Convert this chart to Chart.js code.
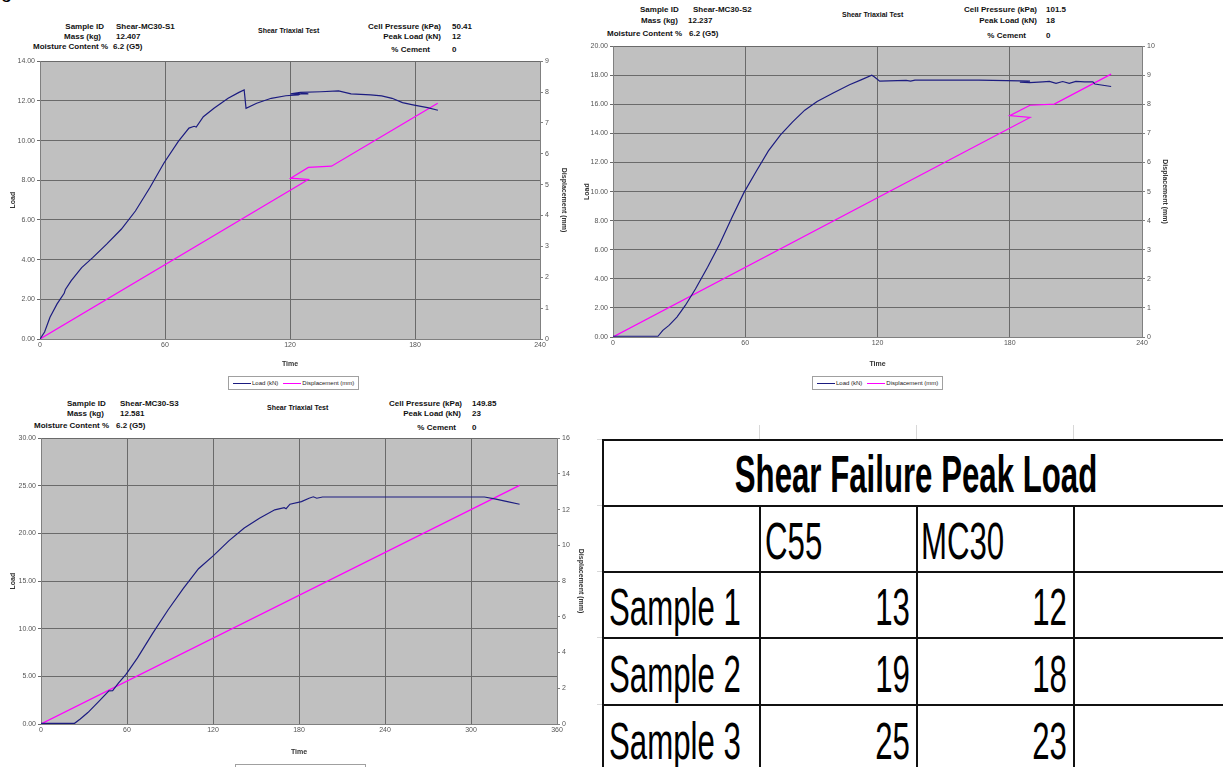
<!DOCTYPE html>
<html>
<head>
<meta charset="utf-8">
<script src="https://cdn.jsdelivr.net/npm/chart.js@4.4.1/dist/chart.umd.min.js"></script>
<style>
  body { margin: 0; background: #fff; }
  #page { position: relative; width: 1223px; height: 767px; overflow: hidden; font-family: "Liberation Sans", Arial, sans-serif; }
  .abs { position: absolute; white-space: nowrap; }
  .hd { position: absolute; white-space: nowrap; font-size: 8px; font-weight: bold; line-height: 10px; color: #111; }
  .hr { text-align: right; }
  canvas { position: absolute; }
  .legend { position: absolute; border: 1px solid #a0a0a0; background: #fff; height: 12px; font-size: 6px; line-height: 12px; color: #222; padding: 0 4px; }
  .legend span.ln { display: inline-block; width: 18px; height: 1px; vertical-align: middle; margin-right: 1px; }
  .legend span.tx { margin-right: 5px; }
  .hline { position: absolute; height: 2px; background: #111; }
  .vline { position: absolute; width: 2px; background: #111; }
  .ghost { position: absolute; background: #d8d8d8; }
  .big { position: absolute; white-space: nowrap; font-size: 52px; line-height: 52px; color: #000; }
</style>
</head>
<body>
<div id="page">
  <div class="abs" style="left:1px;top:-19px;font-size:20px;line-height:20px;">g</div>

  <!-- chart 1 header -->
  <div class="hd hr" style="left:20px;top:22px;width:84px;">Sample ID</div>
  <div class="hd" style="left:116px;top:22px;">Shear-MC30-S1</div>
  <div class="hd hr" style="left:20px;top:32px;width:81px;">Mass (kg)</div>
  <div class="hd" style="left:116px;top:32px;">12.407</div>
  <div class="hd" style="left:33px;top:42px;">Moisture Content %</div>
  <div class="hd" style="left:113px;top:42px;">6.2 (G5)</div>
  <div class="hd" style="left:258px;top:26px;font-size:7px;">Shear Triaxial Test</div>
  <div class="hd hr" style="left:340px;top:22px;width:101px;">Cell Pressure (kPa)</div>
  <div class="hd" style="left:452px;top:22px;">50.41</div>
  <div class="hd hr" style="left:340px;top:32px;width:101px;">Peak Load (kN)</div>
  <div class="hd" style="left:452px;top:32px;">12</div>
  <div class="hd hr" style="left:340px;top:45px;width:90px;">% Cement</div>
  <div class="hd" style="left:452px;top:45px;">0</div>

  <!-- chart 2 header -->
  <div class="hd" style="left:640px;top:5px;">Sample ID</div>
  <div class="hd" style="left:693px;top:5px;">Shear-MC30-S2</div>
  <div class="hd" style="left:641px;top:16px;">Mass (kg)</div>
  <div class="hd" style="left:688px;top:16px;">12.237</div>
  <div class="hd" style="left:607px;top:29px;">Moisture Content %</div>
  <div class="hd" style="left:689px;top:29px;">6.2 (G5)</div>
  <div class="hd" style="left:842px;top:10px;font-size:7px;">Shear Triaxial Test</div>
  <div class="hd hr" style="left:930px;top:5px;width:107px;">Cell Pressure (kPa)</div>
  <div class="hd" style="left:1046px;top:5px;">101.5</div>
  <div class="hd hr" style="left:930px;top:16px;width:107px;">Peak Load (kN)</div>
  <div class="hd" style="left:1046px;top:16px;">18</div>
  <div class="hd hr" style="left:930px;top:31px;width:96px;">% Cement</div>
  <div class="hd" style="left:1046px;top:31px;">0</div>

  <!-- chart 3 header -->
  <div class="hd" style="left:67px;top:399px;">Sample ID</div>
  <div class="hd" style="left:120px;top:399px;">Shear-MC30-S3</div>
  <div class="hd" style="left:67px;top:409px;">Mass (kg)</div>
  <div class="hd" style="left:120px;top:409px;">12.581</div>
  <div class="hd" style="left:34px;top:421px;">Moisture Content %</div>
  <div class="hd" style="left:116px;top:421px;">6.2 (G5)</div>
  <div class="hd" style="left:267px;top:403px;font-size:7px;">Shear Triaxial Test</div>
  <div class="hd hr" style="left:360px;top:399px;width:102px;">Cell Pressure (kPa)</div>
  <div class="hd" style="left:472px;top:399px;">149.85</div>
  <div class="hd hr" style="left:360px;top:409px;width:101px;">Peak Load (kN)</div>
  <div class="hd" style="left:472px;top:409px;">23</div>
  <div class="hd hr" style="left:360px;top:423px;width:96px;">% Cement</div>
  <div class="hd" style="left:472px;top:423px;">0</div>

  <canvas id="c1" width="570" height="313" style="left:0px;top:55px;"></canvas>
  <canvas id="c2" width="591" height="328" style="left:580px;top:40px;"></canvas>
  <canvas id="c3" width="587" height="324" style="left:0px;top:432px;"></canvas>

  <div class="legend" style="left:228px;top:376px;"><span class="ln" style="background:#1c1c80"></span><span class="tx">Load (kN)</span><span class="ln" style="background:#ff00ff"></span><span>Displacement (mm)</span></div>
  <div class="legend" style="left:812px;top:376px;"><span class="ln" style="background:#1c1c80"></span><span class="tx">Load (kN)</span><span class="ln" style="background:#ff00ff"></span><span>Displacement (mm)</span></div>
  <div class="legend" style="left:235px;top:764px;width:121px;"></div>

  <!-- table -->
  <div class="ghost" style="left:759px;top:425px;width:1px;height:14px;"></div>
  <div class="ghost" style="left:916px;top:425px;width:1px;height:14px;"></div>
  <div class="ghost" style="left:1073px;top:425px;width:1px;height:14px;"></div>
  <div class="ghost" style="left:597px;top:439px;width:6px;height:1px;"></div>
  <div class="ghost" style="left:597px;top:505px;width:6px;height:1px;"></div>
  <div class="ghost" style="left:597px;top:571px;width:6px;height:1px;"></div>
  <div class="ghost" style="left:597px;top:637px;width:6px;height:1px;"></div>
  <div class="ghost" style="left:597px;top:704px;width:6px;height:1px;"></div>

  <div class="hline" style="left:603px;top:439px;width:620px;"></div>
  <div class="hline" style="left:603px;top:505px;width:620px;"></div>
  <div class="hline" style="left:603px;top:571px;width:620px;"></div>
  <div class="hline" style="left:603px;top:637px;width:620px;"></div>
  <div class="hline" style="left:603px;top:704px;width:620px;"></div>
  <div class="vline" style="left:602px;top:439px;height:328px;"></div>
  <div class="vline" style="left:759px;top:505px;height:262px;"></div>
  <div class="vline" style="left:916px;top:505px;height:262px;"></div>
  <div class="vline" style="left:1073px;top:505px;height:262px;"></div>
</div>

<script>
// ---- table data ----
var tableTitle = 'Shear Failure Peak Load'
var tableCols = ['C55', 'MC30']
var tableRows = ['Sample 1', 'Sample 2', 'Sample 3']
var peakC55 = [13, 19, 25]
var peakMC30 = [12, 18, 23]

// ---- sample 1 (Shear-MC30-S1) ----
var s1Time = [0, 2.2, 4.8, 8.2, 11.6, 12.2, 15, 20, 25.3, 32, 39, 45.8, 52.7, 59.5, 66.4, 71.5, 74, 75, 78.4, 83.5, 90.3, 95.5, 98, 98.9, 104, 111, 118, 124, 126, 128.8, 120.3, 125, 134.8, 143.3, 149.3, 158.7, 164, 169, 174, 179, 186, 191]
var s1Load = [0, 0.35, 1.1, 1.77, 2.3, 2.5, 2.94, 3.6, 4.1, 4.78, 5.53, 6.45, 7.62, 8.87, 9.96, 10.63, 10.72, 10.68, 11.2, 11.63, 12.13, 12.43, 12.55, 11.63, 11.88, 12.13, 12.26, 12.3, 12.4, 12.35, 12.35, 12.43, 12.46, 12.5, 12.35, 12.3, 12.25, 12.13, 11.91, 11.8, 11.66, 11.53]
var s1DispTime = [0, 128.8, 120.3, 128.8, 139.9, 190.9]
var s1Disp = [0, 5.17, 5.21, 5.56, 5.6, 7.64]

// ---- sample 2 (Shear-MC30-S2) ----
var s2Time = [0, 20.4, 22.6, 25.4, 29, 32.8, 37.4, 42.9, 48.4, 53.9, 59.4, 65, 70.5, 76, 81.5, 87, 92.6, 99.9, 107.3, 112.8, 117.4, 118.5, 121, 133, 135, 137, 166, 184.6, 189.2, 184.6, 189, 195, 198, 201, 204, 207, 210, 214, 217.7, 218.6, 226]
var s2Load = [0.05, 0.05, 0.46, 0.8, 1.37, 2.17, 3.3, 4.8, 6.4, 8.2, 9.93, 11.4, 12.8, 13.9, 14.8, 15.6, 16.2, 16.78, 17.35, 17.7, 18.0, 17.9, 17.6, 17.65, 17.6, 17.67, 17.67, 17.62, 17.6, 17.52, 17.5, 17.55, 17.58, 17.45, 17.57, 17.45, 17.58, 17.55, 17.55, 17.4, 17.23]
var s2DispTime = [0, 189.2, 180, 189.2, 200.2, 226]
var s2Disp = [0, 7.55, 7.61, 7.97, 8.01, 9.04]

// ---- sample 3 (Shear-MC30-S3) ----
var s3Time = [0, 23.4, 27.4, 32.7, 40.7, 47.4, 50, 54, 59.3, 67.3, 78, 88.6, 99.2, 109.9, 120.5, 131.2, 141.8, 152.4, 163.1, 169.7, 171, 173.7, 181.7, 187, 190, 192.4, 196.4, 309.4, 317.4, 325.4, 333.9]
var s3Load = [0.07, 0.07, 0.52, 1.2, 2.43, 3.47, 3.5, 4.3, 5.2, 6.94, 9.54, 11.97, 14.2, 16.3, 17.7, 19.25, 20.57, 21.6, 22.48, 22.7, 22.6, 23.07, 23.34, 23.7, 23.85, 23.7, 23.83, 23.83, 23.6, 23.34, 23.07]
var s3DispTime = [0, 333.9]
var s3Disp = [0, 13.36]

Chart.defaults.font.family = '"Liberation Sans", Arial, sans-serif'
Chart.defaults.font.size = 7
Chart.defaults.color = '#555'

var plotBg = {
	id: 'plotBg',
	beforeDraw: function (chart) {
		var a = chart.chartArea
		var ctx = chart.ctx
		ctx.save()
		ctx.fillStyle = '#c0c0c0'
		ctx.fillRect(a.left, a.top, a.right - a.left, a.bottom - a.top)
		ctx.restore()
	}
}

function pts(xs, ys) {
	var out = []
	for (var i = 0; i < xs.length; i++) out.push({ x: xs[i], y: ys[i] })
	return out
}

function titleFont() {
	return { size: 7, weight: 'bold' }
}

function makeChart(id, t, load, dt, disp, o) {
	new Chart(document.getElementById(id), {
		type: 'scatter',
		data: {
			datasets: [{
				label: 'Load (kN)',
				data: pts(t, load),
				showLine: true,
				borderColor: '#1c1c80',
				borderWidth: 1.2,
				pointRadius: 0,
				yAxisID: 'y'
			}, {
				label: 'Displacement (mm)',
				data: pts(dt, disp),
				showLine: true,
				borderColor: '#ff00ff',
				borderWidth: 1.2,
				pointRadius: 0,
				yAxisID: 'y1'
			}]
		},
		options: {
			responsive: false,
			animation: false,
			layout: { padding: { top: 5, left: 0, right: 0, bottom: 0 } },
			plugins: { legend: { display: false }, tooltip: { enabled: false } },
			scales: {
				x: {
					type: 'linear', min: 0, max: o.xMax,
					ticks: { stepSize: 60, padding: 2, color: '#555' },
					grid: { color: '#6a6a6a', drawTicks: false },
					border: { color: '#808080' },
					title: { display: true, text: 'Time', font: titleFont(), color: '#333', padding: 0 },
					afterFit: function (s) { s.height = o.xH }
				},
				y: {
					position: 'left', min: 0, max: o.yMax,
					ticks: { stepSize: o.yStep, padding: 2, color: '#555', callback: function (v) { return v.toFixed(2) } },
					grid: { color: '#6a6a6a', tickLength: 3 },
					border: { color: '#808080' },
					title: { display: true, text: 'Load', font: titleFont(), color: '#333', padding: o.yPad },
					afterFit: function (s) { s.width = o.yW }
				},
				y1: {
					position: 'right', min: 0, max: o.y1Max,
					ticks: { stepSize: o.y1Step, padding: 2, color: '#555' },
					grid: { drawOnChartArea: false, color: '#808080', tickLength: 3 },
					border: { color: '#808080' },
					title: { display: true, text: 'Displacement (mm)', font: titleFont(), color: '#333', padding: 2 },
					afterFit: function (s) { s.width = o.y1W }
				}
			}
		},
		plugins: [plotBg]
	})
}

makeChart('c1', s1Time, s1Load, s1DispTime, s1Disp, { xMax: 240, yMax: 14, yStep: 2, y1Max: 9, y1Step: 1, yW: 40, y1W: 30, xH: 29, yPad: 9 })
makeChart('c2', s2Time, s2Load, s2DispTime, s2Disp, { xMax: 240, yMax: 20, yStep: 2, y1Max: 10, y1Step: 1, yW: 33, y1W: 29, xH: 31, yPad: 3 })
makeChart('c3', s3Time, s3Load, s3DispTime, s3Disp, { xMax: 360, yMax: 30, yStep: 5, y1Max: 16, y1Step: 2, yW: 41, y1W: 30, xH: 32, yPad: 9 })

// table text
var page = document.getElementById('page')
function bigText(txt, x, top, align, bold) {
	var d = document.createElement('div')
	d.className = 'big'
	d.textContent = txt
	d.style.top = top + 'px'
	if (bold) d.style.fontWeight = 'bold'
	if (align == 'left') {
		d.style.left = x + 'px'
		d.style.transformOrigin = 'left top'
	} else if (align == 'right') {
		d.style.right = (1223 - x) + 'px'
		d.style.transformOrigin = 'right top'
	} else {
		d.style.left = (x - 400) + 'px'
		d.style.width = '800px'
		d.style.textAlign = 'center'
		d.style.transformOrigin = 'center top'
	}
	d.style.transform = 'scaleX(0.6)'
	page.appendChild(d)
}

bigText(tableTitle, 916, 448, 'center', true)
bigText(tableCols[0], 765, 515, 'left', false)
bigText(tableCols[1], 921, 515, 'left', false)
var rowTops = [581, 648, 715]
for (var r = 0; r < tableRows.length; r++) {
	bigText(tableRows[r], 609, rowTops[r], 'left', false)
	bigText(String(peakC55[r]), 910, rowTops[r], 'right', false)
	bigText(String(peakMC30[r]), 1067, rowTops[r], 'right', false)
}
</script>
</body>
</html>
